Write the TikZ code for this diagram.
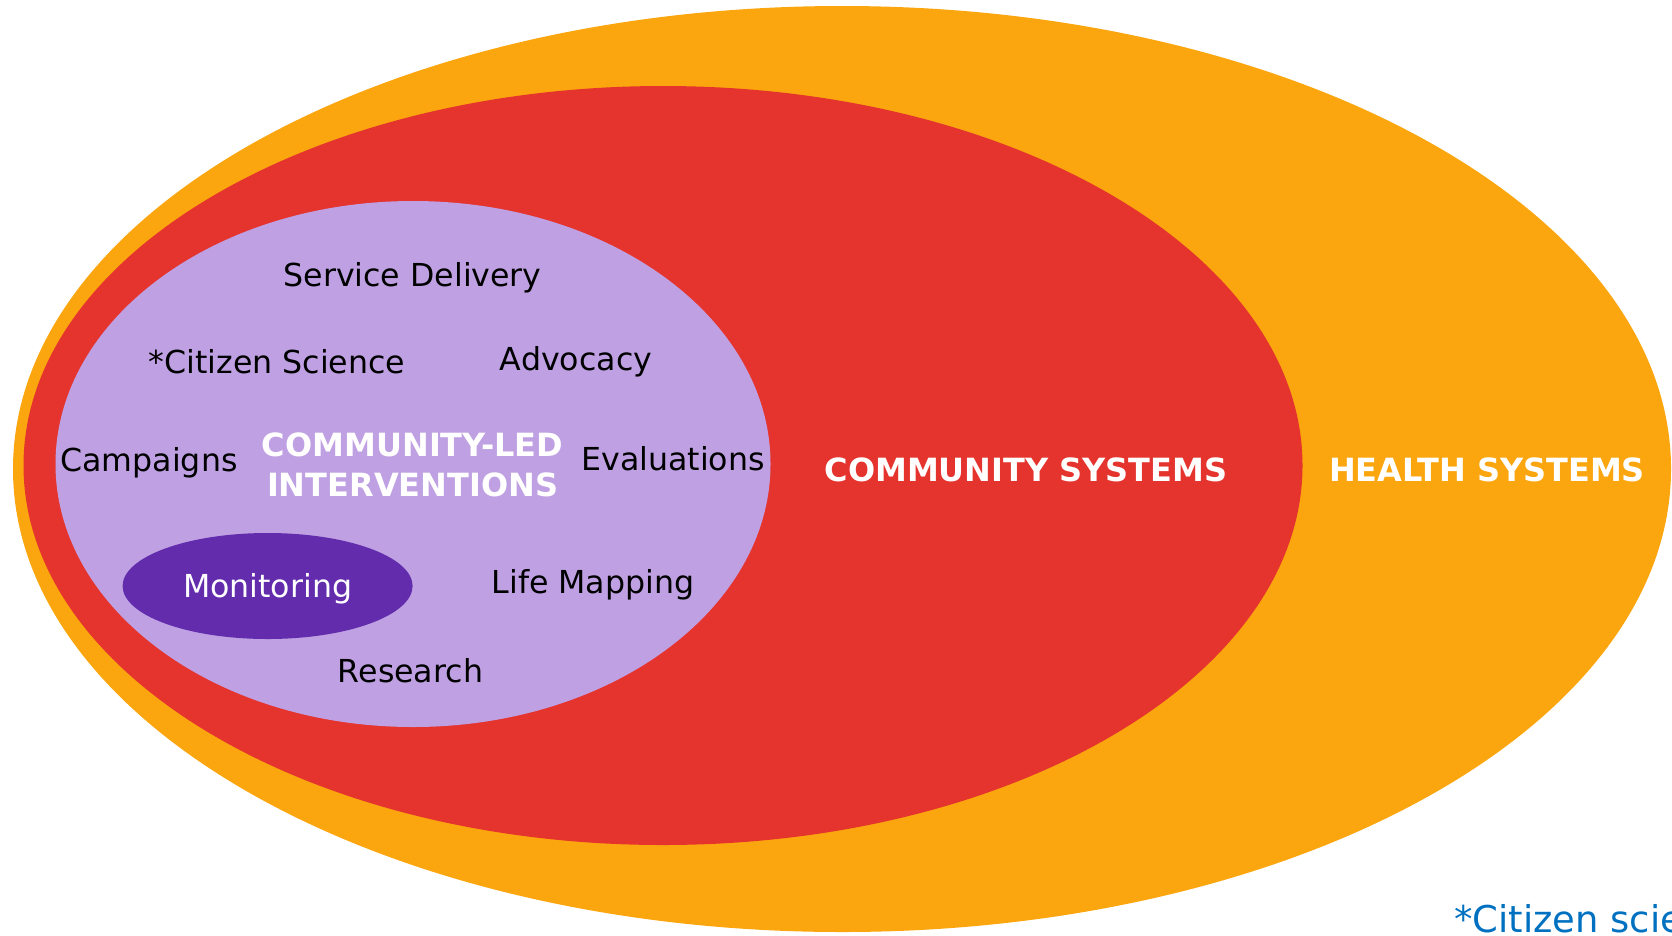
\documentclass[tikz,border=0pt]{standalone}
\usepackage{fontspec}
\setmainfont{DejaVu Sans}
\usetikzlibrary{shapes.geometric}

\definecolor{healthorange}{RGB}{251,166,14}
\definecolor{commred}{RGB}{229,51,46}
\definecolor{clililac}{RGB}{191,161,227}
\definecolor{monpurple}{RGB}{98,44,173}
\definecolor{noteblue}{RGB}{0,112,192}

\tikzset{
  ring/.style={ellipse, inner sep=0pt, draw=none},
  item/.style={font=\fontsize{9}{11}\selectfont, text=black, inner sep=0pt},
  heading/.style={font=\fontsize{9.1}{11.2}\selectfont\bfseries, text=white, inner sep=0pt, align=center}
}

\begin{document}
\begin{tikzpicture}
  \useasboundingbox (0,0) rectangle (16.72,-9.35);

  % nested system ellipses
  \node at (8.42,-4.69) [ring, fill=healthorange, minimum width=16.58cm, minimum height=9.26cm] (health) {};
  \node at (6.63,-4.655) [ring, fill=commred, minimum width=12.79cm, minimum height=7.59cm] (community) {};
  \node at (4.13,-4.64) [ring, fill=clililac, minimum width=7.15cm, minimum height=5.26cm] (cli) {};
  \node at (2.676,-5.86) [ring, fill=monpurple, minimum width=2.90cm, minimum height=1.06cm] (monitor) {};

  % labels
  \node at (4.126,-2.782) [item] (service) {Service Delivery};
  \node at (2.77,-3.615) [item] (citizen) {*Citizen Science};
  \node at (5.76,-3.622) [item] (advocacy) {Advocacy};
  \node at (1.49,-4.628) [item] (campaigns) {Campaigns};
  \node at (6.73,-4.585) [item] (evaluations) {Evaluations};
  \node at (5.93,-5.852) [item] (lifemap) {Life Mapping};
  \node at (4.105,-6.707) [item] (research) {Research};
  \node at (2.676,-5.892) [item, text=white] (monlabel) {Monitoring};

  \node at (4.126,-4.65) [heading] (clilabel) {COMMUNITY-LED\\INTERVENTIONS};
  \node at (10.26,-4.70) [heading] (commlabel) {COMMUNITY SYSTEMS};
  \node at (14.87,-4.70) [heading] (healthlabel) {HEALTH SYSTEMS};

  % footnote, runs off the right edge
  \node at (14.535,-9.19) [anchor=west, inner sep=0pt, text=noteblue, font=\fontsize{10.5}{12}\selectfont] (note) {*Citizen science};
\end{tikzpicture}
\end{document}
